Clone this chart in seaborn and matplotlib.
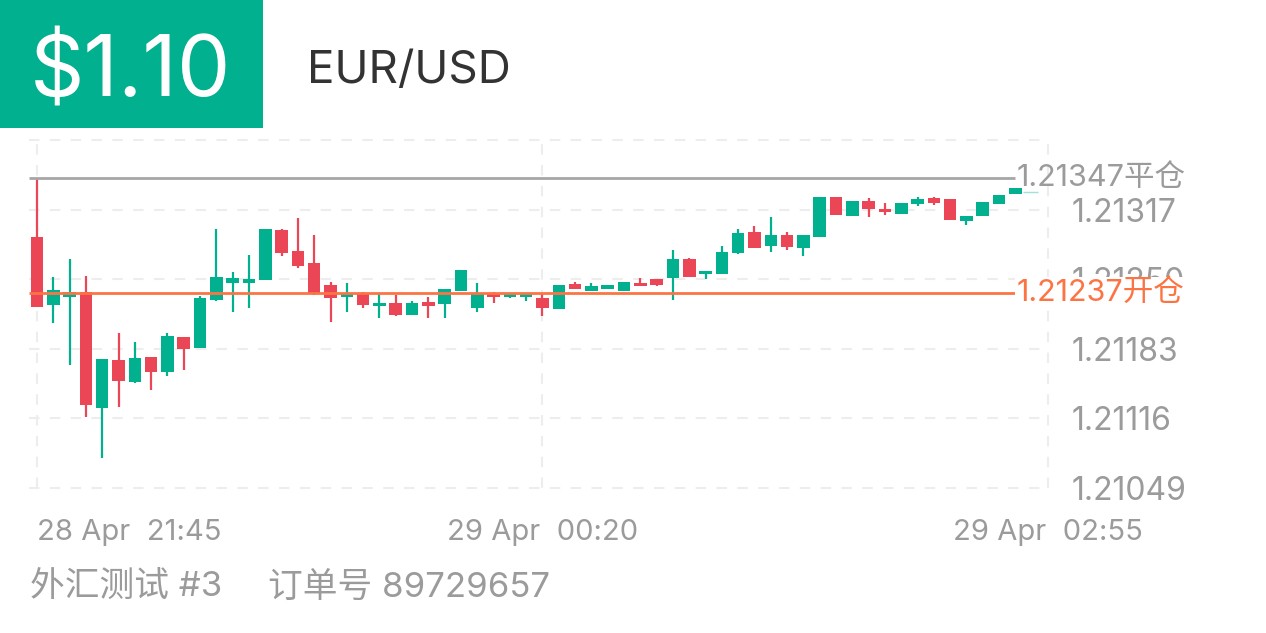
import matplotlib
matplotlib.use("Agg")
import matplotlib.pyplot as plt
from matplotlib.patches import Rectangle
import numpy as np
import pandas as pd
import seaborn as sns

# 5-minute EUR/USD candles, 28 Apr 21:45 -> 29 Apr 02:50
opens = [
    1.21291, 1.21225, 1.21233, 1.21238, 1.21126, 1.21172, 1.21151, 1.21175, 1.21161, 1.21194,
    1.21184, 1.21230, 1.21246, 1.21246, 1.21249, 1.21297, 1.21277, 1.21266, 1.21244, 1.21233,
    1.21237, 1.21224, 1.21227, 1.21216, 1.21228, 1.21226, 1.21239, 1.21222, 1.21237, 1.21233,
    1.21233, 1.21232, 1.21221, 1.21245, 1.21239, 1.21241, 1.21239, 1.21246, 1.21250, 1.21251,
    1.21269, 1.21255, 1.21255, 1.21275, 1.21295, 1.21282, 1.21293, 1.21280, 1.21291, 1.21329,
    1.21311, 1.21325, 1.21318, 1.21313, 1.21322, 1.21328, 1.21327, 1.21306, 1.21311, 1.21322,
    1.21332, 1.21334,
]
closes = [
    1.21223, 1.21240, 1.21238, 1.21129, 1.21173, 1.21152, 1.21174, 1.21161, 1.21195, 1.21183,
    1.21232, 1.21252, 1.21251, 1.21250, 1.21298, 1.21275, 1.21263, 1.21237, 1.21232, 1.21237,
    1.21225, 1.21227, 1.21216, 1.21227, 1.21224, 1.21241, 1.21259, 1.21237, 1.21233, 1.21237,
    1.21237, 1.21222, 1.21244, 1.21241, 1.21243, 1.21243, 1.21247, 1.21243, 1.21244, 1.21269,
    1.21252, 1.21257, 1.21276, 1.21294, 1.21280, 1.21293, 1.21281, 1.21293, 1.21329, 1.21312,
    1.21325, 1.21318, 1.21315, 1.21323, 1.21327, 1.21323, 1.21307, 1.21311, 1.21324, 1.21331,
    1.21338, 1.21334,
]
highs = [
    1.21346, 1.21252, 1.21269, 1.21253, 1.21173, 1.21198, 1.21190, 1.21175, 1.21198, 1.21194,
    1.21234, 1.21298, 1.21257, 1.21273, 1.21298, 1.21298, 1.21309, 1.21293, 1.21247, 1.21246,
    1.21238, 1.21236, 1.21235, 1.21229, 1.21233, 1.21241, 1.21259, 1.21246, 1.21238, 1.21237,
    1.21237, 1.21236, 1.21244, 1.21247, 1.21246, 1.21243, 1.21247, 1.21251, 1.21250, 1.21278,
    1.21270, 1.21257, 1.21282, 1.21298, 1.21301, 1.21310, 1.21295, 1.21293, 1.21329, 1.21329,
    1.21325, 1.21328, 1.21323, 1.21323, 1.21329, 1.21329, 1.21327, 1.21311, 1.21324, 1.21331,
    1.21338, 1.21334,
]
lows = [
    1.21223, 1.21208, 1.21167, 1.21117, 1.21078, 1.21127, 1.21150, 1.21143, 1.21157, 1.21163,
    1.21184, 1.21229, 1.21218, 1.21222, 1.21249, 1.21272, 1.21261, 1.21235, 1.21209, 1.21218,
    1.21222, 1.21213, 1.21215, 1.21216, 1.21213, 1.21213, 1.21239, 1.21218, 1.21227, 1.21232,
    1.21229, 1.21215, 1.21221, 1.21241, 1.21239, 1.21241, 1.21239, 1.21243, 1.21243, 1.21230,
    1.21252, 1.21250, 1.21255, 1.21274, 1.21280, 1.21276, 1.21278, 1.21272, 1.21291, 1.21312,
    1.21311, 1.21310, 1.21312, 1.21313, 1.21320, 1.21321, 1.21307, 1.21302, 1.21311, 1.21322,
    1.21332, 1.21334,
]

y_ticks = [1.21049, 1.21116, 1.21183, 1.21250, 1.21317]
y_top = 1.21384
x_tick_pos = [0, 31, 62]
x_tick_labels = ["28 Apr  21:45", "29 Apr  00:20", "29 Apr  02:55"]
close_level = 1.21347
open_level = 1.21237

GREEN = "#00b08f"
RED = "#eb4655"
ORANGE = "#fd7444"
GREY_TXT = "#9b9b9b"

df = pd.DataFrame({"open": opens, "close": closes, "high": highs, "low": lows})
df["x"] = np.arange(len(df))
df["up"] = df["close"] >= df["open"]
df["bottom"] = df[["open", "close"]].min(axis=1)
df["height"] = (df["close"] - df["open"]).abs()

sns.set_theme(style="white")
plt.rcParams["font.family"] = ["Inter", "Noto Sans CJK SC", "DejaVu Sans"]

W, H = 1266, 633
fig = plt.figure(figsize=(W / 100, H / 100), dpi=100)
ax = fig.add_axes([29 / W, (H - 488) / H, (1048 - 29) / W, (488 - 140) / H])
ax.set_xlim(-0.49, 62)
ax.set_ylim(y_ticks[0], y_top)

# dashed grid
for yv in y_ticks + [y_top]:
    ax.axhline(yv, color="#ededed", lw=1.5, ls=(0, (5, 5)), zorder=0, clip_on=False)
for xv in x_tick_pos:
    ax.axvline(xv, color="#ededed", lw=1.5, ls=(0, (5, 5)), zorder=0, clip_on=False)

# candles
real = df[df["height"] > 0]
colors = np.where(real["up"], GREEN, RED)
ax.vlines(real["x"], real["low"], real["high"], colors=colors, lw=1.6, zorder=2)
ax.bar(real["x"], real["height"].clip(lower=0.00003), bottom=real["bottom"],
       width=0.77, color=colors, zorder=3, linewidth=0)
doji = df[df["height"] == 0]
ax.hlines(doji["open"], doji["x"] - 0.55, doji["x"] + 0.4, colors="#9ee3d4", lw=1, zorder=3)

# position levels
ax.hlines(close_level, -0.49, 60, colors="#a6a6a6", lw=2, zorder=4)
ax.hlines(open_level, -0.49, 60, colors=ORANGE, lw=2, zorder=4)
ax.text(60.1, close_level, "1.21347平仓", color=GREY_TXT, fontsize=22,
        ha="left", va="center", zorder=6, clip_on=False)
ax.text(60.1, open_level, "1.21237开仓", color=ORANGE, fontsize=22,
        ha="left", va="center", zorder=6, clip_on=False,
        bbox=dict(facecolor="white", edgecolor="none", pad=1))

# axes / ticks
sns.despine(ax=ax, left=True, bottom=True)
ax.yaxis.tick_right()
ax.set_yticks(y_ticks)
ax.set_yticklabels([f"{v:.5f}" for v in y_ticks])
ax.set_xticks(x_tick_pos)
ax.set_xticklabels(x_tick_labels)
ax.tick_params(axis="y", length=0, pad=17, labelsize=23, labelcolor=GREY_TXT)
ax.tick_params(axis="x", length=0, pad=22, labelsize=21, labelcolor=GREY_TXT)
ax.get_xticklabels()[0].set_horizontalalignment("left")
ax.grid(False)

# header
fig.add_artist(Rectangle((0, 1 - 128 / H), 263 / W, 128 / H, transform=fig.transFigure,
                         facecolor=GREEN, edgecolor="none"))
fig.text(30 / W, 1 - 97 / H, "$1.10", color="white", fontsize=61, va="baseline", ha="left")
fig.text(307 / W, 1 - 83 / H, "EUR/USD", color="#333333", fontsize=33, va="baseline", ha="left")

# footer
fig.text(30 / W, 1 - 597 / H, "外汇测试 #3", color=GREY_TXT, fontsize=25, va="baseline", ha="left")
fig.text(268 / W, 1 - 597 / H, "订单号 89729657", color=GREY_TXT, fontsize=25, va="baseline", ha="left")

fig.savefig("out.png", dpi=100, facecolor="white")
